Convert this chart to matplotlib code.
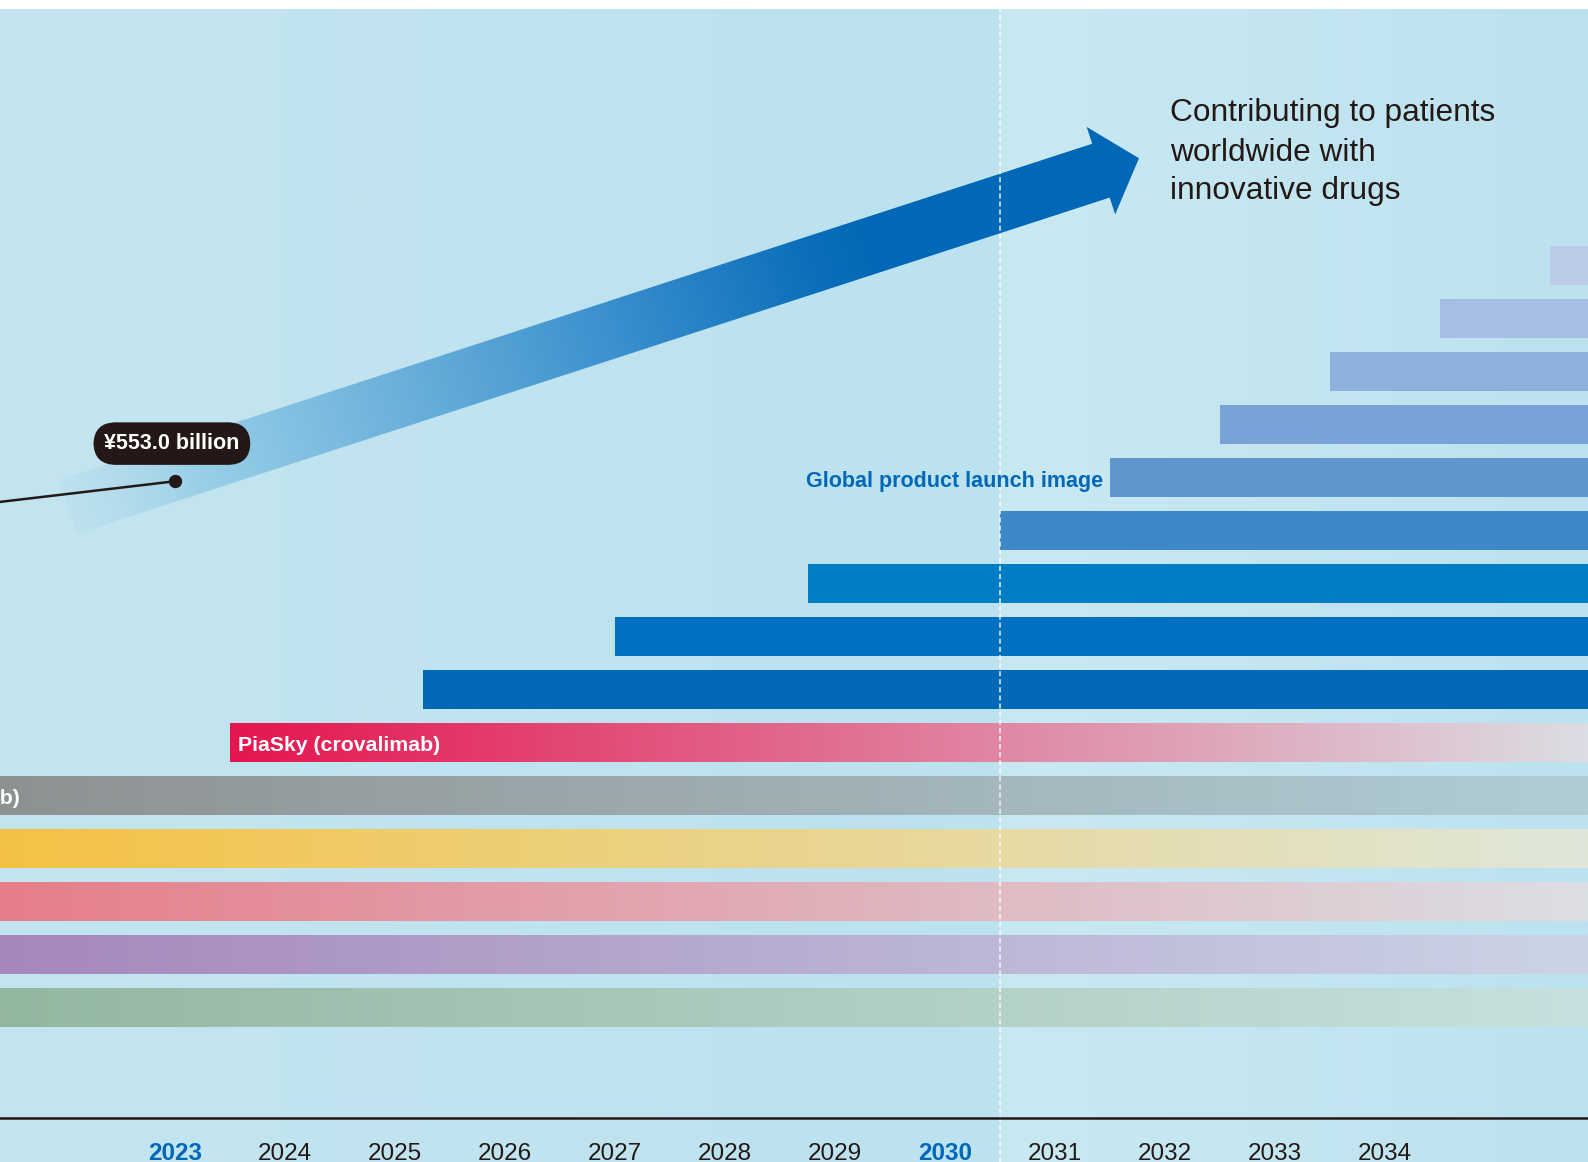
import numpy as np
import matplotlib.pyplot as plt
from matplotlib.colors import LinearSegmentedColormap, to_rgb
from matplotlib.patches import Polygon

# x axis years
years = list(range(2023, 2035))
highlight_years = [2023, 2030]

# products already on the market (bottom to top), gradient bars
market_labels = ["", "", "", "", "Enspryng (satralizumab)", "PiaSky (crovalimab)"]
market_start = [2005.0, 2007.0, 2014.0, 2018.0, 2019.25, 2023.5]
market_left = ["#94b7a0", "#a587bc", "#e57e8a", "#f4c244", "#8e9192", "#e5164f"]
market_right = ["#c7e0df", "#cbd4e6", "#dcdee4", "#dfe7da", "#b0cdd5", "#dcdde4"]

# future global launches (bottom to top), solid bars
launch_start = [2025.25, 2027.0, 2028.75, 2030.5, 2031.5, 2032.5, 2033.5, 2034.5, 2035.5]
launch_colors = ["#0068b7", "#0071c0", "#007dc5", "#3e88c8", "#6095cd",
                 "#77a3d6", "#8eb0dd", "#a6bee3", "#bccce8"]

# revenue line (plot level units), last point 2023
rev_years = [2021.0, 2023.0]
rev_level = [9.44, 9.93]
rev_label = "¥553.0 billion"

DARK = "#231815"
BLUE = "#0068b7"
BAR_END = 2037.0
BAR_H = 0.72

XMIN, XMAX = 2021.407, 2035.844
YMIN, YMAX = -2.915, 19.01
TOP = 18.835
BASE = -2.083

fig = plt.figure(figsize=(15.88, 11.62), dpi=100, facecolor="white")
ax = fig.add_axes([0, 0, 1, 1])
ax.set_xlim(XMIN, XMAX)
ax.set_ylim(YMIN, YMAX)
ax.set_autoscale_on(False)
ax.axis("off")


def hgrad(c0, c1, n=256):
    a, b = np.array(to_rgb(c0)), np.array(to_rgb(c1))
    t = np.linspace(0, 1, n)[:, None]
    return (a + (b - a) * t)[None, :, :]


# background, split at 2030.5
ax.imshow(hgrad("#c3e5ef", "#bce2ef"), extent=[XMIN, 2030.5, YMIN, TOP],
          aspect="auto", zorder=0, interpolation="bilinear")
ax.imshow(hgrad("#c9e9f2", "#bce2ef"), extent=[2030.5, XMAX, YMIN, TOP],
          aspect="auto", zorder=0, interpolation="bilinear")

# gradient arrow (built in pixels, then back to data)
tr = ax.transData
p0 = tr.transform((2022.025, 9.446))
p1 = tr.transform((2031.416, 15.79))
hw, hh, hl = 28.3, 46.0, 40.0
u = (p1 - p0) / np.linalg.norm(p1 - p0)
nv = np.array([-u[1], u[0]])
pts_px = np.array([p0 + nv * hw, p1 + nv * hw, p1 + nv * hh, p1 + u * hl,
                   p1 - nv * hh, p1 - nv * hw, p0 - nv * hw])
pts = tr.inverted().transform(pts_px)
arrow = Polygon(pts, closed=True, fc="none", ec="none", zorder=1)
ax.add_patch(arrow)

ax0, ay0 = pts.min(axis=0)
ax1, ay1 = pts.max(axis=0)
gx, gy = np.meshgrid(np.linspace(ax0, ax1, 600), np.linspace(ay0, ay1, 300))
gpx = tr.transform(np.column_stack([gx.ravel(), gy.ravel()]))
tt = ((gpx - p0) @ u) / (np.linalg.norm(p1 - p0) + hl)
tt = np.clip(tt, 0, 1).reshape(gx.shape)
arrow_cmap = LinearSegmentedColormap.from_list("arr", [
    (0.0, (0.70, 0.86, 0.93, 0.35)),
    (0.12, (0.60, 0.81, 0.91, 1.0)),
    (0.3, (0.43, 0.70, 0.86, 1.0)),
    (0.5, (0.24, 0.57, 0.81, 1.0)),
    (0.7, (0.04, 0.43, 0.73, 1.0)),
    (0.76, to_rgb(BLUE) + (1.0,)),
    (1.0, to_rgb(BLUE) + (1.0,)),
])
im = ax.imshow(arrow_cmap(tt), extent=[ax0, ax1, ay0, ay1], origin="lower",
               aspect="auto", zorder=1, interpolation="bilinear")
im.set_clip_path(arrow)

# market bars with gradients
for i, (s, c0, c1, lab) in enumerate(zip(market_start, market_left, market_right, market_labels)):
    bar = ax.barh(i, BAR_END - s, left=s, height=BAR_H, color="none", lw=0, zorder=2)[0]
    gx0 = max(s, XMIN)
    g = ax.imshow(hgrad(c0, c1), extent=[gx0, XMAX, i - BAR_H / 2, i + BAR_H / 2],
                  aspect="auto", zorder=2, interpolation="bilinear")
    g.set_clip_path(bar)
    if lab:
        ax.text(s + 0.073, i - 0.16, lab, color="white", fontsize=15.3, fontweight="bold",
                family="Liberation Sans", va="baseline", ha="left", zorder=5)

# future launch bars
n0 = len(market_start)
for j, (s, c) in enumerate(zip(launch_start, launch_colors)):
    ax.barh(n0 + j, BAR_END - s, left=s, height=BAR_H, color=c, lw=0, zorder=2)

ax.text(2031.5 - 0.066, 10 - 0.18, "Global product launch image", color=BLUE,
        fontsize=15.5, fontweight="bold", family="Liberation Sans",
        ha="right", va="baseline", zorder=5)

# 2030 divider
ax.plot([2030.5, 2030.5], [YMIN, TOP], color="white", lw=1.1,
        linestyle=(0, (3.3, 2.0)), alpha=0.9, zorder=3)

# revenue line and label
ax.plot(rev_years, rev_level, color=DARK, lw=1.8, zorder=4)
ax.plot(rev_years[-1], rev_level[-1], "o", color=DARK, ms=8.6, zorder=4)
ax.text(rev_years[-1] - 0.03, 10.64, rev_label, color="white", fontsize=15.5,
        fontweight="bold", family="Liberation Sans", ha="center", va="center", zorder=5,
        bbox=dict(boxstyle="round,pad=0.5,rounding_size=1.05", fc=DARK, ec="none"))

# headline text
for k, line in enumerate(["Contributing to patients", "worldwide with", "innovative drugs"]):
    ax.text(2032.045, [16.733, 15.978, 15.256][k], line, color=DARK, fontsize=22.8,
            family="Liberation Sans", ha="left", va="baseline", zorder=5)

# time axis
ax.axhline(BASE, color=DARK, lw=1.8, zorder=4)
for yr in years:
    hl_ = yr in highlight_years
    ax.text(yr, -2.875, str(yr), ha="center", va="baseline", fontsize=17.5,
            family=["Liberation Sans Narrow", "Liberation Sans"],
            color=BLUE if hl_ else DARK, fontweight="bold" if hl_ else "normal", zorder=5)

fig.savefig("out.png", dpi=100, facecolor="white")
plt.close(fig)
